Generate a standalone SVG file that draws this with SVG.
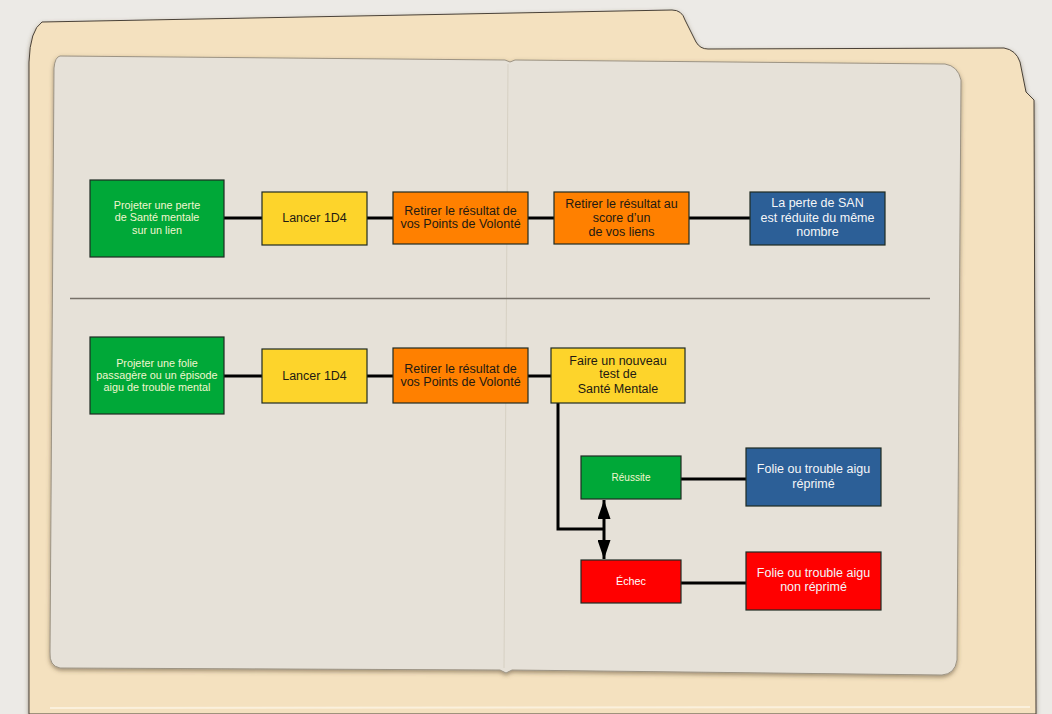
<svg xmlns="http://www.w3.org/2000/svg" width="1052" height="714" viewBox="0 0 1052 714">
<style>
.box{stroke:#1e2a22;stroke-width:1.2}
.g{fill:#00a838}.y{fill:#fdd42b}.o{fill:#ff8000}.b{fill:#2c5f97}.r{fill:#ff0000}
.t{font-family:"Liberation Sans",Arial,sans-serif;font-size:12.5px;text-anchor:middle;fill:#231a12}
.tw{font-family:"Liberation Sans",Arial,sans-serif;font-size:12.5px;text-anchor:middle;fill:#f4f6f8}
.ts{font-family:"Liberation Sans",Arial,sans-serif;font-size:10.8px;text-anchor:middle;fill:#f2f6cf}
.c{stroke:#000;stroke-width:3;fill:none}
</style>
<defs>
<filter id="sh" x="-5%" y="-5%" width="110%" height="110%">
<feDropShadow dx="0" dy="2" stdDeviation="2" flood-color="#5a4a30" flood-opacity="0.55"/>
</filter>
<marker id="ah" viewBox="0 0 19 13" refX="19" refY="6.5" markerWidth="19" markerHeight="13" markerUnits="userSpaceOnUse" orient="auto">
<path d="M0,0 L19,6.5 L0,13 Z" fill="#000"/>
</marker>
</defs>
<rect width="1052" height="714" fill="#eceae6"/>
<path d="M42 22 L672 10 Q682 10 685 20 L696 42 Q700 49 708 49 L1004 48 Q1016 50 1020 62 L1026 92 L1034 100 L1036 714 L29 714 L29 62 Q30 30 42 22 Z" fill="#f4e1bf" stroke="#4a4238" stroke-width="1" filter="url(#sh)"/>
<line x1="50" y1="708" x2="1030" y2="707" stroke="#faf0dc" stroke-width="2"/>
<path d="M60 56 L505 60 L510 62 L515 60 L945 64 Q958 66 961 80 L957 660 Q955 674 942 675 L512 670 L506 673 L500 670 L60 668 Q49 666 50 652 L54 68 Q55 57 60 56 Z" fill="#e6e1d8" stroke="#9d9484" stroke-width="1" filter="url(#sh)"/>
<line x1="508" y1="64" x2="504" y2="668" stroke="#d6d0c3" stroke-width="1"/>
<line x1="70" y1="298.5" x2="930" y2="298.5" stroke="#767068" stroke-width="1.5"/>
<g id="connectors">
<line class="c" x1="224" y1="218" x2="262" y2="218"/>
<line class="c" x1="367" y1="218" x2="393" y2="218"/>
<line class="c" x1="528" y1="218" x2="554" y2="218"/>
<line class="c" x1="689" y1="218" x2="750" y2="218"/>
<line class="c" x1="224" y1="376" x2="262" y2="376"/>
<line class="c" x1="367" y1="376" x2="393" y2="376"/>
<line class="c" x1="528" y1="376" x2="551" y2="376"/>
<polyline class="c" points="558,403 558,529 604,529"/>
<line class="c" x1="604" y1="529" x2="604" y2="500" marker-end="url(#ah)"/>
<line class="c" x1="604" y1="529" x2="604" y2="559" marker-end="url(#ah)"/>
<line class="c" x1="681" y1="479" x2="746" y2="479"/>
<line class="c" x1="681" y1="583" x2="746" y2="583"/>
</g>
<g id="n1"><rect class="box g" x="90" y="180" width="134" height="77"/>
<text class="ts" x="157" y="209">Projeter une perte</text><text class="ts" x="157" y="221">de Santé mentale</text><text class="ts" x="157" y="234">sur un lien</text></g>
<g id="n2"><rect class="box y" x="262" y="192" width="105" height="53"/>
<text class="t" x="314.5" y="222">Lancer 1D4</text></g>
<g id="n3"><rect class="box o" x="393" y="192" width="135" height="52"/>
<text class="t" x="460.5" y="215">Retirer le résultat de</text><text class="t" x="460.5" y="228">vos Points de Volonté</text></g>
<g id="n4"><rect class="box o" x="554" y="192" width="135" height="52"/>
<text class="t" x="621.5" y="208">Retirer le résultat au</text><text class="t" x="621.5" y="222">score d’un</text><text class="t" x="621.5" y="236">de vos liens</text></g>
<g id="n5"><rect class="box b" x="750" y="192" width="135" height="53"/>
<text class="tw" x="817.5" y="207">La perte de SAN</text><text class="tw" x="817.5" y="222">est réduite du même</text><text class="tw" x="817.5" y="236">nombre</text></g>
<g id="m1"><rect class="box g" x="90" y="337" width="134" height="77"/>
<text class="ts" x="157" y="367">Projeter une folie</text><text class="ts" x="157" y="379">passagère ou un épisode</text><text class="ts" x="157" y="391">aigu de trouble mental</text></g>
<g id="m2"><rect class="box y" x="262" y="349" width="105" height="54"/>
<text class="t" x="314.5" y="380">Lancer 1D4</text></g>
<g id="m3"><rect class="box o" x="393" y="348" width="135" height="55"/>
<text class="t" x="460.5" y="373">Retirer le résultat de</text><text class="t" x="460.5" y="386">vos Points de Volonté</text></g>
<g id="m4"><rect class="box y" x="551" y="348" width="134" height="55"/>
<text class="t" x="618" y="365">Faire un nouveau</text><text class="t" x="618" y="378">test de</text><text class="t" x="618" y="393">Santé Mentale</text></g>
<g id="m5"><rect class="box g" x="581" y="456" width="100" height="43"/>
<text class="ts" x="631" y="481" style="font-size:10px">Réussite</text></g>
<g id="m6"><rect class="box b" x="746" y="448" width="135" height="58"/>
<text class="tw" x="813.5" y="473">Folie ou trouble aigu</text><text class="tw" x="813.5" y="488">réprimé</text></g>
<g id="m7"><rect class="box r" x="581" y="560" width="100" height="43"/>
<text class="ts" x="631" y="585" style="fill:#fff">Échec</text></g>
<g id="m8"><rect class="box r" x="746" y="552" width="135" height="58"/>
<text class="tw" x="813.5" y="577">Folie ou trouble aigu</text><text class="tw" x="813.5" y="591">non réprimé</text></g>
</svg>
